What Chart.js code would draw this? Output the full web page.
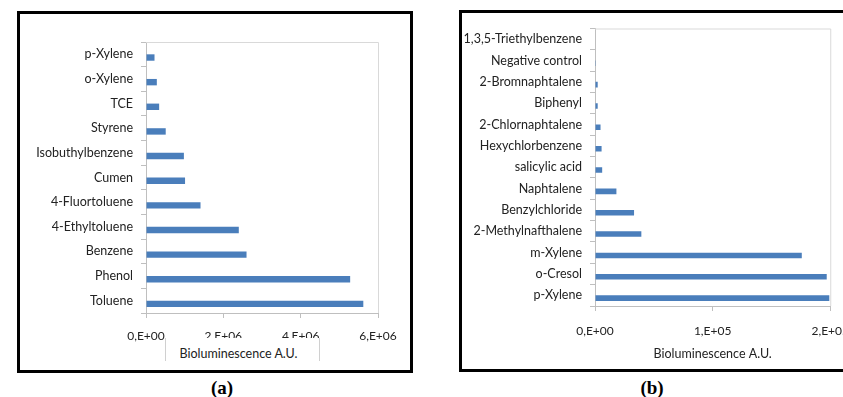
<!DOCTYPE html>
<html>
<head>
<meta charset="utf-8">
<script src="https://cdn.jsdelivr.net/npm/chart.js@4.4.1/dist/chart.umd.min.js"></script>
<style>
  html, body { margin: 0; padding: 0; background: #fff; overflow: hidden; width: 843px; height: 397px; }
  .box { position: absolute; border: 3px solid #000; box-sizing: content-box; }
  #boxA { left: 17px; top: 11px; width: 390px; height: 356px; }
  #boxB { left: 459px; top: 10px; width: 400px; height: 356px; }
  .box canvas { position: absolute; left: 0; top: 0; }
  .cap { position: absolute; font: bold 19px "Liberation Serif", serif; color: #000; transform: translateX(-50%); }
  #titleA {
    position: absolute; left: 145px; top: 324px; width: 155px; height: 23px;
    background: #fff; border-left: 1px solid #d0d0d0; border-right: 1px solid #d0d0d0;
    font: 12.5px Lato, sans-serif; color: #222; text-align: center;
    padding-top: 5px; line-height: 22px; padding-right: 8px; box-sizing: border-box;
  }
</style>
</head>
<body>
<div class="box" id="boxA">
  <canvas id="chartA" width="390" height="356"></canvas>
  <div id="titleA">Bioluminescence A.U.</div>
</div>
<div class="box" id="boxB">
  <canvas id="chartB" width="400" height="356"></canvas>
</div>
<div class="cap" style="left:222px; top:377px;">(a)</div>
<div class="cap" style="left:652px; top:377px;">(b)</div>

<script>
// Panel (a): top to bottom as drawn
const labelsA = ['p-Xylene', 'o-Xylene', 'TCE', 'Styrene', 'Isobuthylbenzene', 'Cumen',
  '4-Fluortoluene', '4-Ethyltoluene', 'Benzene', 'Phenol', 'Toluene'];
const valuesA = [0.22e6, 0.28e6, 0.34e6, 0.51e6, 0.98e6, 1.01e6, 1.41e6, 2.40e6, 2.60e6, 5.28e6, 5.62e6];
const ticksA = { min: 0, max: 6e6, step: 2e6 };

// Panel (b)
const labelsB = ['1,3,5-Triethylbenzene', 'Negative control', '2-Bromnaphtalene', 'Biphenyl',
  '2-Chlornaphtalene', 'Hexychlorbenzene', 'salicylic acid', 'Naphtalene', 'Benzylchloride',
  '2-Methylnafthalene', 'm-Xylene', 'o-Cresol', 'p-Xylene'];
const valuesB = [0, 700, 2300, 2300, 4700, 5600, 6100, 18200, 33200, 39400, 175800, 197000, 199200];
const ticksB = { min: 0, max: 2e5, step: 1e5 };

const axisTitle = 'Bioluminescence A.U.';
const barColor = '#4a7ebb';
const axisGrey = '#bfbfbf';

Chart.defaults.font.family = 'Lato, sans-serif';
Chart.defaults.font.size = 12;
Chart.defaults.color = '#222';

// "0,E+00" style tick labels
function sciLabel(v) {
  if (v === 0) return '0,E+00';
  const exp = Math.floor(Math.log10(Math.abs(v)));
  const m = Math.round(v / Math.pow(10, exp));
  return m + ',E+' + String(exp).padStart(2, '0');
}

// light grey frame on top and right of the plot area
const frame = {
  id: 'frame',
  afterDraw(chart) {
    const { ctx, chartArea: a } = chart;
    ctx.save();
    ctx.strokeStyle = '#d9d9d9';
    ctx.lineWidth = 1;
    ctx.beginPath();
    ctx.moveTo(a.left, a.top + 0.5);
    ctx.lineTo(a.right + 0.5, a.top + 0.5);
    ctx.lineTo(a.right + 0.5, a.bottom);
    ctx.stroke();
    ctx.restore();
  }
};

function makeChart(id, labels, values, range, opt) {
  return new Chart(document.getElementById(id), {
    type: 'bar',
    data: {
      labels: labels,
      datasets: [
        // empty slot so the bars sit below the category centre, like the original
        { label: '', data: [], backgroundColor: barColor },
        { label: axisTitle, data: values, backgroundColor: barColor }
      ]
    },
    options: {
      indexAxis: 'y',
      responsive: false,
      animation: false,
      layout: { padding: { top: opt.padTop, right: opt.padRight, left: 0, bottom: 0 } },
      plugins: { legend: { display: false }, tooltip: { enabled: false } },
      datasets: { bar: { barPercentage: 1.0, categoryPercentage: opt.catPct } },
      scales: {
        y: {
          grid: { drawOnChartArea: false, drawTicks: true, tickLength: 5, color: axisGrey },
          border: { color: axisGrey },
          ticks: { padding: 8, font: { size: 12.5 }, autoSkip: false },
          afterFit(s) { s.width = opt.yWidth; }
        },
        x: {
          min: range.min, max: range.max,
          grid: { drawOnChartArea: false, drawTicks: true, tickLength: 5, color: axisGrey },
          border: { color: axisGrey },
          ticks: { stepSize: range.step, padding: opt.tickPad, maxRotation: 0, callback: sciLabel },
          title: { display: opt.showTitle, text: axisTitle, font: { size: 12.5 }, padding: { top: 0, bottom: 8 } },
          afterFit(s) { s.height = opt.xHeight; }
        }
      }
    },
    plugins: [frame]
  });
}

makeChart('chartA', labelsA, valuesA, ticksA,
  { catPct: 0.52, padTop: 28, padRight: 32, yWidth: 126, xHeight: 57, tickPad: 11, showTitle: false });
makeChart('chartB', labelsB, valuesB, ticksB,
  { catPct: 0.52, padTop: 12, padRight: 26, yWidth: 133, xHeight: 63, tickPad: 13, showTitle: true });
</script>
</body>
</html>
